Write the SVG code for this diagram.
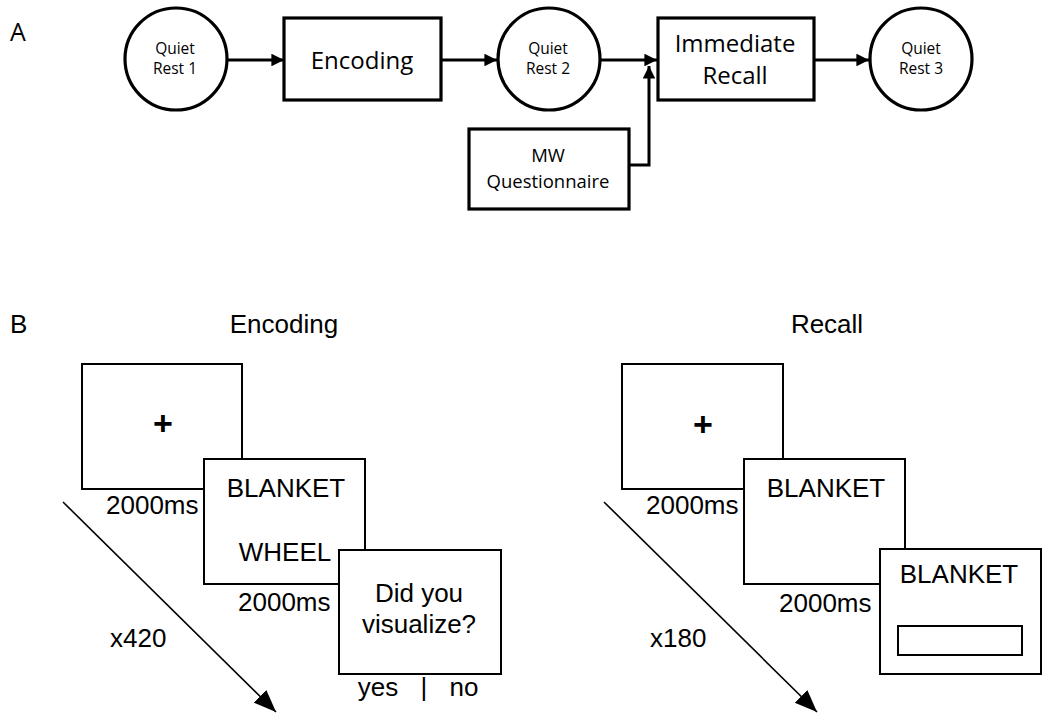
<svg xmlns="http://www.w3.org/2000/svg" width="1050" height="722" viewBox="0 0 1050 722">
<style>
.a{fill:#fff;stroke:#000;stroke-width:3.2}
.b{fill:#fff;stroke:#000;stroke-width:2}
.ta{font-family:"Open Sans","Noto Sans",sans-serif;fill:#000;text-anchor:middle}
.q{font-size:15.5px}
.tb{font-family:"Liberation Sans",Arial,sans-serif;fill:#000;font-size:26px}
.p{font-family:"Liberation Sans",Arial,sans-serif;fill:#000;font-size:34px;font-weight:bold;text-anchor:middle}
.c{fill:none;stroke:#000;stroke-width:3}
.d{fill:none;stroke:#000;stroke-width:1.6}
</style>
<defs>
<marker id="ah" viewBox="0 0 10 10" refX="10" refY="5" markerWidth="4.2" markerHeight="4.2" markerUnits="strokeWidth" orient="auto"><path d="M0,0L10,5L0,10z" fill="#000"/></marker>
<marker id="ah2" viewBox="0 0 10 10" refX="10" refY="5" markerWidth="14" markerHeight="14" markerUnits="strokeWidth" orient="auto"><path d="M0,1L10,5L0,9z" fill="#000"/></marker>
</defs>
<text x="10" y="41" class="tb" style="font-family:'Open Sans',sans-serif;font-size:25px">A</text>
<text x="10" y="333" class="tb">B</text>
<g id="connectors">
<path class="c" d="M227,60H284" marker-end="url(#ah)"/>
<path class="c" d="M441,60H497" marker-end="url(#ah)"/>
<path class="c" d="M600,60H657" marker-end="url(#ah)"/>
<path class="c" d="M814,60H869" marker-end="url(#ah)"/>
<path class="c" d="M629,165H649V66" marker-end="url(#ah)"/>
</g>
<g id="rest1"><circle class="a" cx="176" cy="59" r="51"/><text class="ta q" x="175" y="54">Quiet</text><text class="ta q" x="175" y="74">Rest 1</text></g>
<g id="encoding"><rect class="a" x="284" y="18" width="157" height="82"/><text class="ta" font-size="24" x="362" y="69">Encoding</text></g>
<g id="rest2"><circle class="a" cx="549" cy="59" r="51"/><text class="ta q" x="548" y="54">Quiet</text><text class="ta q" x="548" y="74">Rest 2</text></g>
<g id="recall"><rect class="a" x="658" y="18" width="156" height="82"/><text class="ta" font-size="24" x="735" y="52">Immediate</text><text class="ta" font-size="24" x="735" y="84">Recall</text></g>
<g id="rest3"><circle class="a" cx="921" cy="59" r="51"/><text class="ta q" x="921" y="54">Quiet</text><text class="ta q" x="921" y="74">Rest 3</text></g>
<g id="mw"><rect class="a" x="469" y="129" width="160" height="80"/><text class="ta" font-size="18.5" x="548" y="162">MW</text><text class="ta" font-size="18.5" x="548" y="188">Questionnaire</text></g>

<g id="panelB-encoding">
<text x="284" y="333" class="tb" text-anchor="middle">Encoding</text>
<path class="d" d="M63,502L276,712" marker-end="url(#ah2)"/>
<text x="110" y="647" class="tb">x420</text>
<rect class="b" x="82" y="364" width="160" height="125"/>
<text x="163" y="435" class="p">+</text>
<text x="106" y="514" class="tb">2000ms</text>
<rect class="b" x="204" y="459" width="161" height="125"/>
<text x="286" y="497" class="tb" text-anchor="middle">BLANKET</text>
<text x="285" y="561" class="tb" text-anchor="middle">WHEEL</text>
<text x="238" y="611" class="tb">2000ms</text>
<rect class="b" x="339" y="550" width="162" height="124"/>
<text x="419" y="602" class="tb" text-anchor="middle">Did you</text>
<text x="419" y="633" class="tb" text-anchor="middle">visualize?</text>
<text x="378" y="696" class="tb" text-anchor="middle">yes</text>
<text x="424" y="696" class="tb" text-anchor="middle">|</text>
<text x="464" y="696" class="tb" text-anchor="middle">no</text>
</g>

<g id="panelB-recall">
<text x="827" y="333" class="tb" text-anchor="middle">Recall</text>
<path class="d" d="M604,502L817,712" marker-end="url(#ah2)"/>
<text x="650" y="647" class="tb">x180</text>
<rect class="b" x="622" y="364" width="161" height="125"/>
<text x="703" y="436" class="p">+</text>
<text x="646" y="514" class="tb">2000ms</text>
<rect class="b" x="744" y="459" width="161" height="125"/>
<text x="826" y="497" class="tb" text-anchor="middle">BLANKET</text>
<text x="779" y="612" class="tb">2000ms</text>
<rect class="b" x="880" y="549" width="161" height="125"/>
<text x="959" y="583" class="tb" text-anchor="middle">BLANKET</text>
<rect class="b" x="898" y="626" width="124" height="29"/>
</g>
</svg>
